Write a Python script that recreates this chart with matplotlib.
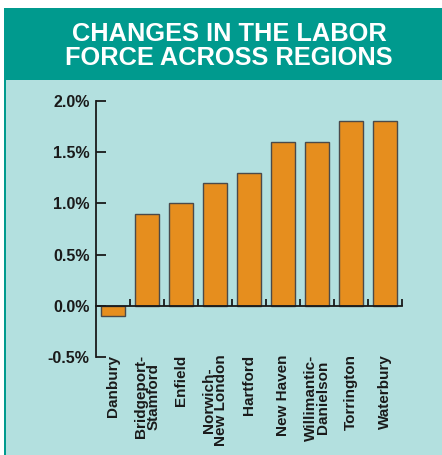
import matplotlib.pyplot as plt
from matplotlib.patches import Rectangle
from matplotlib.ticker import FixedLocator, FuncFormatter

regions = ["Danbury", "Bridgeport-\nStamford", "Enfield", "Norwich-\nNew London",
           "Hartford", "New Haven", "Willimantic-\nDanielson", "Torrington", "Waterbury"]
change_pct = [-0.1, 0.9, 1.0, 1.2, 1.3, 1.6, 1.6, 1.8, 1.8]
y_ticks = [-0.5, 0.0, 0.5, 1.0, 1.5, 2.0]

TEAL = "#009a8e"
PANEL = "#b3e0df"
ORANGE = "#e68e1e"
INK = "#1a1a1a"

plt.rcParams["font.family"] = ["Liberation Sans", "DejaVu Sans"]

W, H = 442, 455
fig = plt.figure(figsize=(W / 100, H / 100), dpi=100)
fig.patch.set_facecolor("white")

# panel background, header band and left border (kept behind the axes)
for rect in [((4 / W, 0), 1 - 4 / W, (H - 80) / H, PANEL),
             ((4 / W, (H - 80) / H), 1 - 4 / W, 72 / H, TEAL),
             ((4 / W, 0), 1.5 / W, (H - 80) / H, TEAL)]:
    (x0, y0), w, h, c = rect
    fig.patches.append(Rectangle((x0, y0), w, h, transform=fig.transFigure,
                                 facecolor=c, edgecolor="none", zorder=-10))

fig.text(229 / W, 1 - 46 / H, "CHANGES IN THE LABOR\nFORCE ACROSS REGIONS",
         ha="center", va="center", color="white", fontsize=18.3, fontweight="bold",
         linespacing=0.95, zorder=5)

ax = fig.add_axes([96 / W, 98 / H, 306 / W, 256 / H])
ax.set_facecolor("none")
ax.set_zorder(2)

x = list(range(len(regions)))
ax.bar(x, change_pct, width=0.72, color=ORANGE, edgecolor="#4a4a4a", linewidth=1.0, zorder=2)

ax.set_xlim(-0.5, len(regions) - 0.5)
ax.set_ylim(-0.5, 2.0)

for s in ["top", "right"]:
    ax.spines[s].set_visible(False)
ax.spines["left"].set_color(INK)
ax.spines["left"].set_linewidth(1.3)
ax.spines["bottom"].set_position(("data", 0))
ax.spines["bottom"].set_color(INK)
ax.spines["bottom"].set_linewidth(1.3)
ax.spines["bottom"].set_zorder(3)

ax.yaxis.set_major_locator(FixedLocator(y_ticks))
ax.yaxis.set_major_formatter(FuncFormatter(lambda v, _: f"{v:.1f}%"))
ax.tick_params(axis="y", direction="in", length=7, width=1.3, color=INK, pad=4.5,
               labelsize=11.5, labelcolor=INK)
for lab in ax.get_yticklabels():
    lab.set_fontweight("bold")

# category boundaries marked on the zero line
ax.xaxis.set_major_locator(FixedLocator([i + 0.5 for i in x]))
ax.tick_params(axis="x", direction="in", length=5, width=1.3, color=INK, labelbottom=False)

for i, name in enumerate(regions):
    ax.text(i, -0.475, name, rotation=90, ha="right", va="center", rotation_mode="anchor",
            fontsize=11, fontweight="bold", color=INK, linespacing=0.9,
            multialignment="center", transform=ax.transData)

fig.savefig("out.png", dpi=100, facecolor=fig.get_facecolor())
